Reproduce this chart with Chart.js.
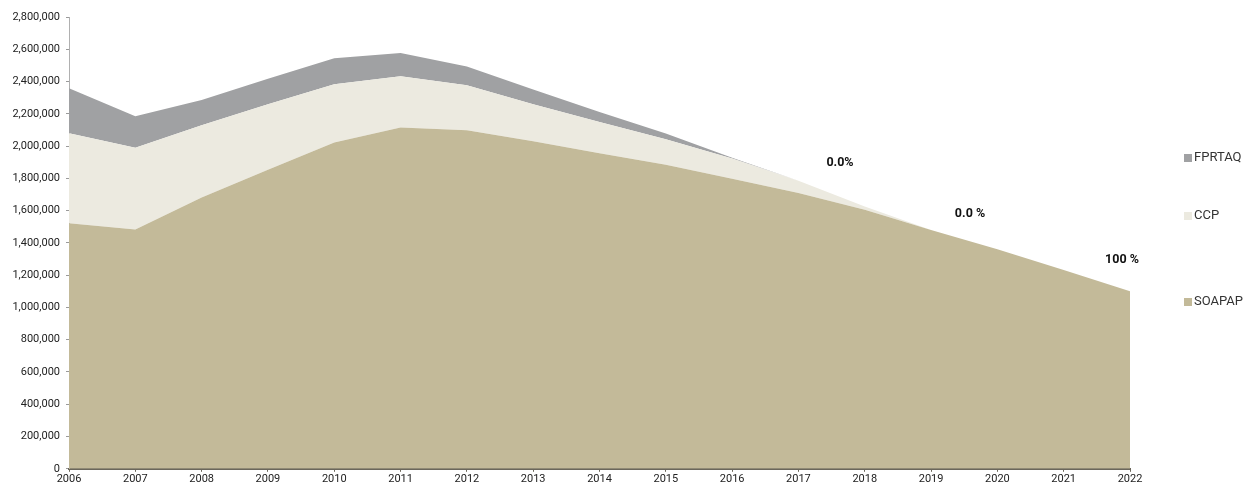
<!DOCTYPE html>
<html>
<head>
<meta charset="utf-8">
<script src="https://cdn.jsdelivr.net/npm/chart.js@4.4.1/dist/chart.umd.min.js"></script>
<style>
  html, body { margin: 0; padding: 0; background: #fff; }
  #wrap { position: relative; width: 1246px; height: 487px; }
</style>
</head>
<body>
<div id="wrap"><canvas id="main-graph"></canvas></div>
<script>
const years = ['2006', '2007', '2008', '2009', '2010', '2011', '2012', '2013', '2014', '2015', '2016', '2017', '2018', '2019', '2020', '2021', '2022'];
const soapap = [1522000, 1483000, 1681000, 1853000, 2022000, 2115000, 2098000, 2030000, 1955000, 1885000, 1798000, 1710000, 1605000, 1480000, 1360000, 1232000, 1100000];
const ccp = [558000, 506000, 448000, 407000, 361000, 318000, 279000, 230000, 194000, 158000, 125000, 75000, 20000, 0, 0, 0, 0];
const fprtaq = [279000, 196000, 157000, 158000, 161000, 144000, 116000, 90000, 63000, 35000, 5000, 0, 0, 0, 0, 0, 0];
const notes = ['0.0%', '0.0 %', '100 %'];

const colors = { fprtaq: '#a0a1a3', ccp: '#ecEAE0', soapap: '#c3ba99' };

// legende a droite, espacement irregulier comme sur l'original
const legendPlugin = {
  id: 'sideLegend',
  afterDraw(chart) {
    const c = chart.ctx;
    const rows = [[2, 158], [1, 216], [0, 302]];
    c.save();
    c.font = '13px Roboto';
    c.textBaseline = 'middle';
    rows.forEach(([i, y]) => {
      const ds = chart.data.datasets[i];
      c.fillStyle = ds.backgroundColor;
      c.fillRect(1184, y - 4, 8, 8);
      c.fillStyle = '#333';
      c.fillText(ds.label, 1194, y);
    });
    // pourcentages
    const spots = [[840, 163], [970, 214], [1122, 260]];
    c.font = 'bold 12.5px Roboto';
    c.fillStyle = '#111';
    c.textAlign = 'center';
    notes.forEach((t, i) => c.fillText(t, spots[i][0], spots[i][1]));
    c.restore();
  }
};

const chart = new Chart(document.getElementById('main-graph'), {
  type: 'line',
  data: {
    labels: years,
    datasets: [
      { label: 'SOAPAP', data: soapap, backgroundColor: colors.soapap, fill: 'origin' },
      { label: 'CCP', data: ccp, backgroundColor: colors.ccp, fill: '-1' },
      { label: 'FPRTAQ', data: fprtaq, backgroundColor: colors.fprtaq, fill: '-1' }
    ]
  },
  options: {
    responsive: true,
    maintainAspectRatio: false,
    animation: false,
    elements: {
      line: { borderWidth: 0, tension: 0 },
      point: { radius: 0 }
    },
    layout: { padding: { top: 17, right: 116, left: 0, bottom: 0 } },
    scales: {
      x: {
        offset: false,
        grid: { drawOnChartArea: false, drawTicks: true, tickLength: 3, color: '#6b675b' },
        border: { display: true, color: '#6b675b', width: 2 },
        ticks: { color: '#222', font: { family: 'Roboto', size: 11 }, padding: 1, maxRotation: 0, autoSkip: false }
      },
      y: {
        stacked: true,
        min: 0,
        max: 2800000,
        afterFit: (scale) => { scale.width = 69; },
        grid: { drawOnChartArea: false, drawTicks: true, tickLength: 3, color: '#9a9a9a' },
        border: { display: true, color: '#b0b0b0', width: 1 },
        ticks: {
          stepSize: 200000,
          color: '#222',
          font: { family: 'Roboto', size: 11 },
          padding: 6,
          callback: (val) => val.toLocaleString('en-US')
        }
      }
    },
    plugins: {
      legend: { display: false },
      tooltip: { enabled: false }
    }
  },
  plugins: [legendPlugin]
});
</script>
</body>
</html>
